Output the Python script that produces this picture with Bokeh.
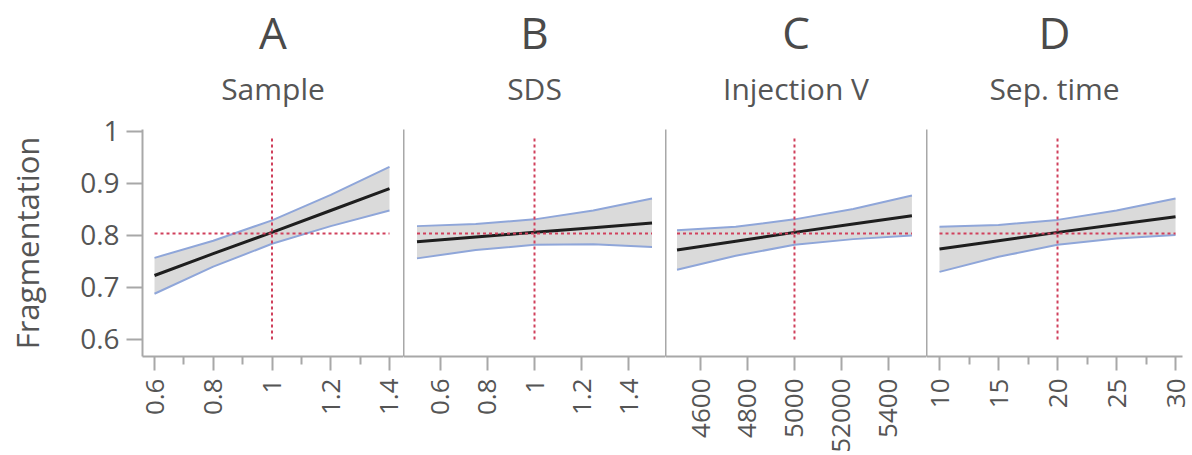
import math
from bokeh.plotting import figure
from bokeh.layouts import row
from bokeh.models import Range1d, FixedTicker, Title
from bokeh.embed import file_html
from bokeh.resources import INLINE

FONT = "Open Sans"
TEXT_COLOR = "#555555"
AXIS_COLOR = "#a8a8a8"

# ---------------- data ----------------
panel_letters = ["A", "B", "C", "D"]
factor_names = ["Sample", "SDS", "Injection V", "Sep. time"]

sample_x = [0.6, 0.8, 1.0, 1.2, 1.4]
sample_fit = [0.723, 0.765, 0.806, 0.848, 0.890]
sample_lower = [0.688, 0.740, 0.784, 0.818, 0.848]
sample_upper = [0.757, 0.790, 0.829, 0.878, 0.932]

sds_x = [0.5, 0.75, 1.0, 1.25, 1.5]
sds_fit = [0.788, 0.797, 0.806, 0.815, 0.824]
sds_lower = [0.756, 0.772, 0.782, 0.783, 0.778]
sds_upper = [0.818, 0.822, 0.831, 0.848, 0.871]

inj_x = [4500, 4750, 5000, 5250, 5500]
inj_fit = [0.772, 0.789, 0.806, 0.822, 0.838]
inj_lower = [0.734, 0.761, 0.782, 0.793, 0.800]
inj_upper = [0.810, 0.817, 0.831, 0.851, 0.877]

sep_x = [10, 15, 20, 25, 30]
sep_fit = [0.774, 0.790, 0.806, 0.821, 0.836]
sep_lower = [0.730, 0.759, 0.782, 0.794, 0.801]
sep_upper = [0.817, 0.820, 0.830, 0.848, 0.871]

current_settings = [1.0, 1.0, 5000, 20]
predicted_value = 0.804
ref_line_y = [0.6, 0.99]

x_ticks = [
    [0.6, 0.8, 1.0, 1.2, 1.4],
    [0.6, 0.8, 1.0, 1.2, 1.4],
    [4600, 4800, 5000, 5200, 5400],
    [10, 15, 20, 25, 30],
]
x_tick_labels = [
    ["0.6", "0.8", "1", "1.2", "1.4"],
    ["0.6", "0.8", "1", "1.2", "1.4"],
    ["4600", "4800", "5000", "52000", "5400"],
    ["10", "15", "20", "25", "30"],
]
x_minor_ticks = [[0.7, 0.9, 1.1, 1.3], [], [], [12.5, 17.5, 22.5, 27.5]]
x_ranges = [(0.5591, 1.4477), (0.4426, 1.5574), (4451, 5562), (8.898, 30.59)]

y_ticks = [0.6, 0.7, 0.8, 0.9, 1.0]
y_tick_labels = ["0.6", "0.7", "0.8", "0.9", "1"]
y_range = (0.5673, 1.0038)
y_label = "Fragmentation"

series = [
    (sample_x, sample_fit, sample_lower, sample_upper),
    (sds_x, sds_fit, sds_lower, sds_upper),
    (inj_x, inj_fit, inj_lower, inj_upper),
    (sep_x, sep_fit, sep_lower, sep_upper),
]

# ---------------- layout ----------------
widths = [403, 262, 261, 266]
HEIGHT = 455
TOP = 129
FRAME_H = 227
BOTTOM = HEIGHT - TOP - FRAME_H

figs = []
for i in range(4):
    first = i == 0
    p = figure(
        width=widths[i], height=HEIGHT,
        x_range=Range1d(*x_ranges[i]), y_range=Range1d(*y_range),
        output_backend="svg", toolbar_location=None,
        min_border_left=142 if first else 0,
        min_border_right=10 if i == 3 else 0,
        min_border_top=TOP, min_border_bottom=BOTTOM,
        background_fill_color="white", border_fill_color="white",
    )
    p.outline_line_color = None
    p.grid.visible = False

    # big panel letter on top, factor name just above the plot
    p.title = Title(text=panel_letters[i], align="center", text_font=FONT,
                    text_font_size="44px", text_font_style="normal",
                    text_color="#4a4a4a", standoff=-33)
    p.add_layout(Title(text=factor_names[i], align="center", text_font=FONT,
                       text_font_size="30px", text_font_style="normal",
                       text_color=TEXT_COLOR, standoff=41), "above")

    # x axis
    xa = p.xaxis[0]
    xa.ticker = FixedTicker(ticks=x_ticks[i], minor_ticks=x_minor_ticks[i])
    xa.major_label_overrides = {float(v): s for v, s in zip(x_ticks[i], x_tick_labels[i])}
    xa.major_label_orientation = math.pi / 2
    xa.major_label_text_font = FONT
    xa.major_label_text_font_size = "26px"
    xa.major_label_text_color = TEXT_COLOR
    xa.major_label_standoff = 8
    xa.axis_line_color = AXIS_COLOR
    xa.axis_line_width = 2
    xa.major_tick_line_color = AXIS_COLOR
    xa.major_tick_line_width = 2
    xa.major_tick_out = 14
    xa.major_tick_in = 0
    xa.minor_tick_line_color = AXIS_COLOR
    xa.minor_tick_line_width = 2
    xa.minor_tick_out = 8
    xa.minor_tick_in = 0

    # y axis
    ya = p.yaxis[0]
    ya.axis_line_color = AXIS_COLOR
    ya.axis_line_width = 2
    if first:
        ya.ticker = FixedTicker(ticks=y_ticks, minor_ticks=[])
        ya.major_label_overrides = {float(v): s for v, s in zip(y_ticks, y_tick_labels)}
        ya.major_label_text_font = FONT
        ya.major_label_text_font_size = "28px"
        ya.major_label_text_color = TEXT_COLOR
        ya.major_label_standoff = 7
        ya.major_tick_line_color = AXIS_COLOR
        ya.major_tick_line_width = 2
        ya.major_tick_out = 16
        ya.major_tick_in = 0
        ya.axis_label = y_label
        ya.axis_label_text_font = FONT
        ya.axis_label_text_font_size = "31px"
        ya.axis_label_text_font_style = "normal"
        ya.axis_label_text_color = TEXT_COLOR
        ya.axis_label_standoff = 29
    else:
        ya.ticker = FixedTicker(ticks=[], minor_ticks=[])
        ya.major_tick_out = 0
        ya.major_tick_in = 0
        ya.major_label_standoff = 0
        ya.major_label_text_font_size = "0px"
        ya.axis_label = None

    xs, fit, lo, up = series[i]
    p.varea(x=xs, y1=lo, y2=up, fill_color="#d6d6d6", fill_alpha=0.9)
    p.line(xs, up, line_color="#8fa6d9", line_width=2)
    p.line(xs, lo, line_color="#8fa6d9", line_width=2)
    p.line(xs, fit, line_color="#1e1e1e", line_width=3)
    p.line([xs[0], xs[-1]], [predicted_value, predicted_value],
           line_color="#d0405c", line_width=2, line_dash="3 3")
    p.line([current_settings[i], current_settings[i]], ref_line_y,
           line_color="#d0405c", line_width=2, line_dash="3 3")
    figs.append(p)

layout = row(*figs, spacing=0)
open("out.html", "w").write(file_html(layout, INLINE))
